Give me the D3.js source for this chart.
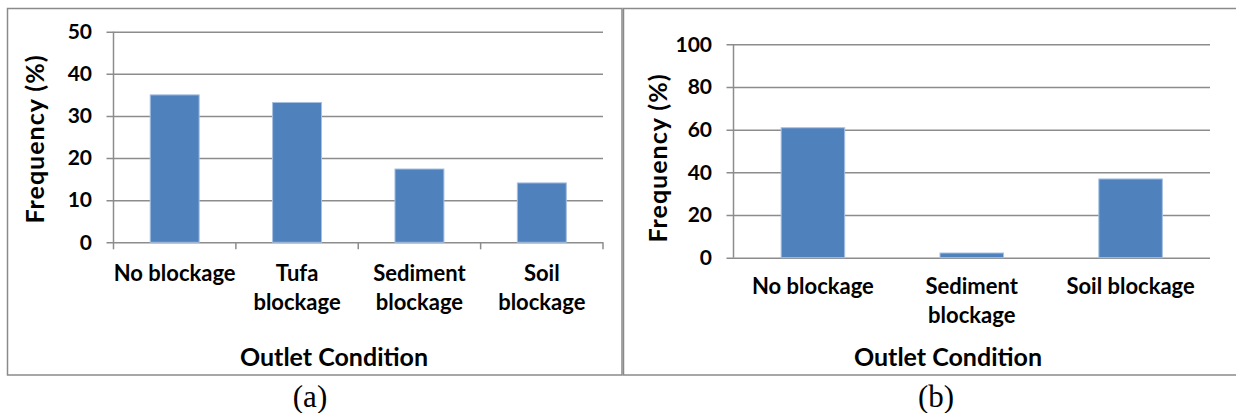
<!DOCTYPE html>
<html>
<head>
<meta charset="utf-8">
<script src="https://cdn.jsdelivr.net/npm/d3@7"></script>
<style>
  html, body { margin: 0; padding: 0; background: #fff; }
  svg { display: block; }
</style>
</head>
<body>
<svg id="fig" width="1236" height="413"></svg>
<script>
// Panel (a): outlet condition frequencies
const categoriesA = ["No blockage", "Tufa blockage", "Sediment blockage", "Soil blockage"];
const valuesA = [35.0, 33.2, 17.4, 14.1];
const ticksA = [0, 10, 20, 30, 40, 50];

// Panel (b): outlet condition frequencies
const categoriesB = ["No blockage", "Sediment blockage", "Soil blockage"];
const valuesB = [60.9, 2.2, 36.9];
const ticksB = [0, 20, 40, 60, 80, 100];

// Category label line breaks per panel
const labelLinesA = [["No blockage"], ["Tufa", "blockage"], ["Sediment", "blockage"], ["Soil", "blockage"]];
const labelLinesB = [["No blockage"], ["Sediment", "blockage"], ["Soil blockage"]];

const xTitle = "Outlet Condition";
const yTitle = "Frequency (%)";

const svg = d3.select("#fig");
const FONT = "Lato, 'Open Sans', sans-serif";
const BAR = "#4f81bd";
const GRID = "#8c8c8c";

function panel(opt) {
  const g = svg.append("g");

  // outer frame
  g.append("rect")
    .attr("x", opt.frame[0]).attr("y", opt.frame[1])
    .attr("width", opt.frame[2]).attr("height", opt.frame[3])
    .attr("fill", "none").attr("stroke", "#8a8a8a").attr("stroke-width", 1.5);

  const x = d3.scaleBand().domain(opt.categories).range([opt.x0, opt.x1]).paddingInner(0.6).paddingOuter(0.3);
  const y = d3.scaleLinear().domain([0, opt.max]).range([opt.yBottom, opt.yTop]);

  // horizontal gridlines with left ticks
  const yAxis = d3.axisLeft(y).tickValues(opt.ticks)
    .tickSize(-(opt.x1 - opt.x0)).tickSizeOuter(0).tickPadding(14);
  const ya = g.append("g").attr("transform", `translate(${opt.x0},0)`).call(yAxis);
  ya.select(".domain").remove();
  ya.selectAll(".tick line").attr("stroke", GRID).attr("stroke-width", 1.5).attr("x1", -7);
  ya.selectAll(".tick text")
    .attr("font-family", FONT).attr("font-weight", 700).attr("font-size", opt.tickFont)
    .attr("fill", "#000").attr("x", opt.labelRight - opt.x0);

  // bars
  g.selectAll("rect.bar").data(opt.values).join("rect")
    .attr("class", "bar")
    .attr("x", (d, i) => x(opt.categories[i]))
    .attr("width", x.bandwidth())
    .attr("y", d => y(d))
    .attr("height", d => y(0) - y(d))
    .attr("fill", BAR)
    .attr("stroke", "#a7c0e0").attr("stroke-width", 1);

  // vertical axis line
  g.append("line")
    .attr("x1", opt.x0).attr("x2", opt.x0)
    .attr("y1", opt.yTop).attr("y2", opt.yBottom + (opt.catTicks ? 7 : 0))
    .attr("stroke", GRID).attr("stroke-width", 1.5);

  // category boundary ticks
  if (opt.catTicks) {
    const step = (opt.x1 - opt.x0) / opt.categories.length;
    const bounds = d3.range(opt.categories.length + 1).map(i => opt.x0 + i * step);
    g.selectAll("line.ctick").data(bounds.slice(1)).join("line")
      .attr("class", "ctick")
      .attr("x1", d => d).attr("x2", d => d)
      .attr("y1", opt.yBottom).attr("y2", opt.yBottom + 7)
      .attr("stroke", GRID).attr("stroke-width", 1.5);
  }

  // category labels
  opt.labelLines.forEach((lines, i) => {
    const cx = x(opt.categories[i]) + x.bandwidth() / 2;
    const t = g.append("text")
      .attr("text-anchor", "middle")
      .attr("font-family", FONT).attr("font-weight", 700).attr("font-size", opt.catFont)
      .attr("fill", "#000");
    lines.forEach((s, j) => {
      t.append("tspan").attr("x", cx).attr("y", opt.labelY + j * opt.lineGap).text(s);
    });
  });

  // axis titles
  g.append("text")
    .attr("x", opt.xTitlePos[0]).attr("y", opt.xTitlePos[1])
    .attr("text-anchor", "middle")
    .attr("font-family", FONT).attr("font-weight", 700).attr("font-size", opt.titleFont)
    .text(xTitle);

  g.append("text")
    .attr("transform", `translate(${opt.yTitlePos[0]},${opt.yTitlePos[1]}) rotate(-90)`)
    .attr("text-anchor", "middle").attr("dominant-baseline", "central")
    .attr("font-family", FONT).attr("font-weight", 700).attr("font-size", opt.yTitleFont)
    .attr("letter-spacing", 1)
    .text(yTitle);

  // caption
  g.append("text")
    .attr("x", opt.caption[0]).attr("y", opt.caption[1])
    .attr("text-anchor", "middle")
    .attr("font-family", "'Liberation Serif', 'Times New Roman', serif")
    .attr("font-size", 31)
    .text(opt.caption[2]);
}

panel({
  frame: [7.5, 8.5, 614.5, 366.5],
  categories: categoriesA, values: valuesA, ticks: ticksA, max: 50,
  labelLines: labelLinesA,
  x0: 113.5, x1: 603, yTop: 31.7, yBottom: 242.3,
  labelRight: 92, tickFont: 21, catFont: 22, titleFont: 25, yTitleFont: 25,
  catTicks: true, labelY: 281, lineGap: 29,
  xTitlePos: [334, 366], yTitlePos: [34, 139],
  caption: [310, 407, "(a)"]
});

panel({
  frame: [623.5, 8.5, 614, 366.5],
  categories: categoriesB, values: valuesB, ticks: ticksB, max: 100,
  labelLines: labelLinesB,
  x0: 733.5, x1: 1210, yTop: 44.3, yBottom: 257.7,
  labelRight: 712, tickFont: 21, catFont: 22, titleFont: 25, yTitleFont: 25,
  catTicks: false, labelY: 294, lineGap: 29,
  xTitlePos: [948, 366], yTitlePos: [657, 158],
  caption: [936, 407, "(b)"]
});
</script>
</body>
</html>
